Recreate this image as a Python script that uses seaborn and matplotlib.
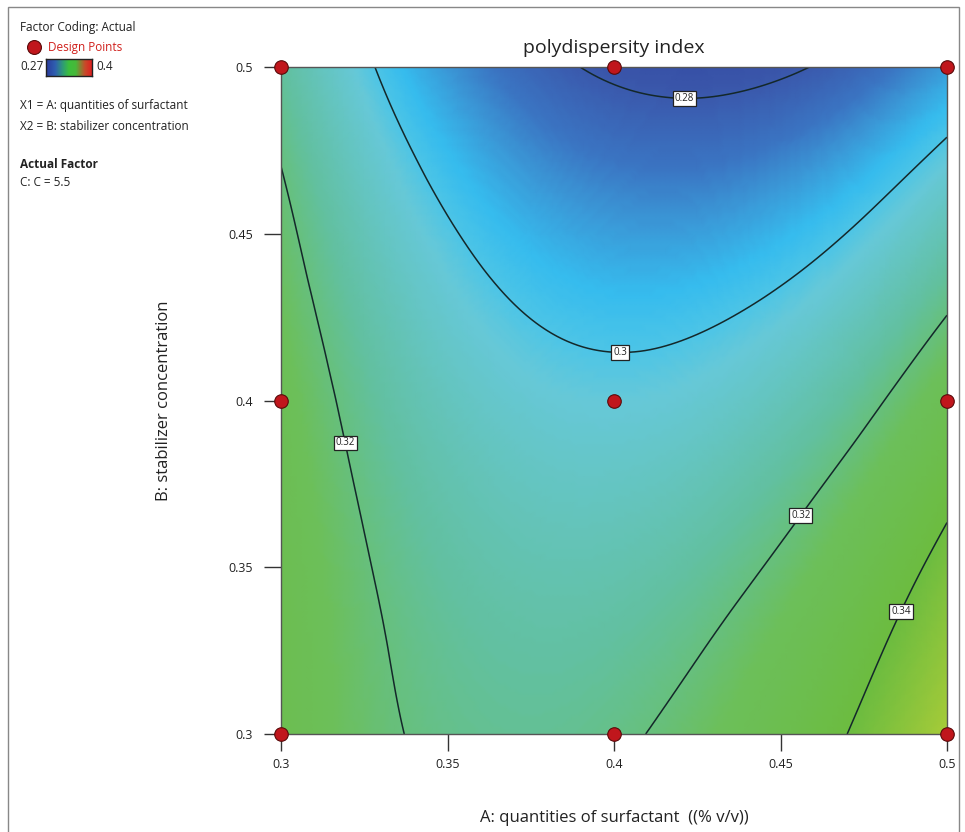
import numpy as np
import pandas as pd
import matplotlib
matplotlib.use("Agg")
import matplotlib.pyplot as plt
import matplotlib.tri as mtri
from matplotlib.colors import LinearSegmentedColormap
from matplotlib.patches import Rectangle
import seaborn as sns

# ---- data ----
A_levels = [0.300, 0.325, 0.350, 0.375, 0.400, 0.425, 0.450, 0.475, 0.500]  # A: surfactant
B_levels = [0.300, 0.325, 0.350, 0.375, 0.400, 0.425, 0.450, 0.475, 0.500]  # B: stabilizer
pdi_B0300 = [0.3302, 0.3226, 0.3181, 0.3167, 0.3185, 0.3234, 0.3314, 0.3425, 0.3568]
pdi_B0325 = [0.3303, 0.3219, 0.3166, 0.3145, 0.3155, 0.3196, 0.3268, 0.3371, 0.3506]
pdi_B0350 = [0.3299, 0.3207, 0.3146, 0.3117, 0.3119, 0.3152, 0.3216, 0.3312, 0.3439]
pdi_B0375 = [0.3289, 0.3189, 0.3121, 0.3083, 0.3077, 0.3102, 0.3159, 0.3246, 0.3365]
pdi_B0400 = [0.3274, 0.3166, 0.3089, 0.3044, 0.3030, 0.3047, 0.3096, 0.3175, 0.3286]
pdi_B0425 = [0.3252, 0.3137, 0.3052, 0.2999, 0.2977, 0.2987, 0.3027, 0.3099, 0.3202]
pdi_B0450 = [0.3226, 0.3102, 0.3010, 0.2949, 0.2919, 0.2920, 0.2953, 0.3017, 0.3112]
pdi_B0475 = [0.3193, 0.3062, 0.2961, 0.2892, 0.2855, 0.2848, 0.2873, 0.2929, 0.3016]
pdi_B0500 = [0.3155, 0.3016, 0.2907, 0.2831, 0.2785, 0.2771, 0.2787, 0.2836, 0.2915]
contour_levels = [0.28, 0.30, 0.32, 0.34]
contour_fmt = {0.28: "0.28", 0.30: "0.3", 0.32: "0.32", 0.34: "0.34"}
design_A = [0.3, 0.4, 0.5, 0.3, 0.4, 0.5, 0.3, 0.4, 0.5]
design_B = [0.5, 0.5, 0.5, 0.4, 0.4, 0.4, 0.3, 0.3, 0.3]
ticks = [0.3, 0.35, 0.4, 0.45, 0.5]
tick_labels = ["0.3", "0.35", "0.4", "0.45", "0.5"]
color_min, color_max = 0.27, 0.40

sns.set_style("white")
plt.rcParams["font.family"] = ["Open Sans", "DejaVu Sans"]

def pos(v):
    return (v - color_min) / (color_max - color_min)

cmap = LinearSegmentedColormap.from_list("de", [
    (pos(0.270), "#2b3f9c"), (pos(0.279), "#3a56aa"), (pos(0.286), "#3a74c2"),
    (pos(0.291), "#3a9ad8"), (pos(0.296), "#36bcee"), (pos(0.300), "#4ec5e6"),
    (pos(0.303), "#66c8d8"), (pos(0.315), "#62c0a0"), (pos(0.325), "#6cbf5a"),
    (pos(0.340), "#6cbc40"), (pos(0.357), "#a8cc38"), (pos(0.375), "#e0c030"),
    (pos(0.400), "#d82020")])
legend_cmap = LinearSegmentedColormap.from_list("leg", [
    (0.0, "#2a3a9c"), (0.2, "#2f5fb0"), (0.38, "#2fa070"), (0.5, "#3cbf3c"),
    (0.65, "#48b83a"), (0.85, "#c84a2a"), (1.0, "#e02020")])

fig = plt.figure(figsize=(9.65, 8.32), dpi=100)
ax = fig.add_axes([281/965, 98/832, 666/965, 667/832])

# grid -> triangulation, refined smoothly by matplotlib
AA, BB = np.meshgrid(A_levels, B_levels)
Z = np.array([pdi_B0300, pdi_B0325, pdi_B0350, pdi_B0375, pdi_B0400,
              pdi_B0425, pdi_B0450, pdi_B0475, pdi_B0500])
tri = mtri.Triangulation(AA.ravel(), BB.ravel())
interp = mtri.CubicTriInterpolator(tri, Z.ravel(), kind="min_E")
refiner = mtri.UniformTriRefiner(tri)
tri_f, z_f = refiner.refine_field(Z.ravel(), triinterpolator=interp, subdiv=4)

ax.tripcolor(tri_f, z_f, shading="gouraud", cmap=cmap, vmin=color_min, vmax=color_max)
cs = ax.tricontour(tri_f, z_f, levels=contour_levels, colors="#14282a", linewidths=1.1)
label_pos = [(0.4212, 0.4922), (0.4018, 0.4145), (0.3180, 0.3870),
             (0.4555, 0.3660), (0.4853, 0.3372)]
labels = ax.clabel(cs, fmt=contour_fmt, fontsize=7, inline=False, manual=label_pos)
for t in labels:
    t.set_rotation(0)
    t.set_color("#222222")
    t.set_bbox(dict(facecolor="white", edgecolor="#222222", linewidth=0.9, pad=1.4))

pts = pd.DataFrame({"A": design_A, "B": design_B})
sns.scatterplot(data=pts, x="A", y="B", ax=ax, s=95, color="#c0161c",
                edgecolor="#5a0a0a", linewidth=0.8, zorder=10, clip_on=False, legend=False)

ax.set_xlim(0.3, 0.5)
ax.set_ylim(0.3, 0.5)
ax.set_xticks(ticks)
ax.set_xticklabels(tick_labels)
ax.set_yticks(ticks)
ax.set_yticklabels(tick_labels)
ax.tick_params(axis="both", direction="out", length=12, width=1, color="#333333",
               labelsize=9, labelcolor="#222222")
ax.tick_params(axis="x", pad=5)
ax.tick_params(axis="y", pad=8)
ax.tick_params(bottom=True, left=True)
for s in ax.spines.values():
    s.set_color("#555555")
    s.set_linewidth(1)
ax.set_xlabel("A: quantities of surfactant  ((% v/v))", fontsize=12, color="#222222")
ax.set_ylabel("B: stabilizer concentration", fontsize=12, color="#222222")
ax.xaxis.set_label_coords(0.5, -0.114)
ax.yaxis.set_label_coords(-0.164, 0.5)
ax.text(0.5, 1.028, "polydispersity index", transform=ax.transAxes,
        ha="center", va="center", fontsize=14, color="#222222")

# left legend block
def ft(x, y, s, **kw):
    fig.text(x/965, 1 - y/832, s, va="center", ha="left", **kw)

ft(20, 28, "Factor Coding: Actual", fontsize=8.5, color="#222222")
fig.add_artist(plt.Line2D([34/965], [1 - 47/832], marker="o", markersize=10,
                          markerfacecolor="#c0161c", markeredgecolor="#5a0a0a",
                          markeredgewidth=0.8, linestyle="none"))
ft(48, 47, "Design Points", fontsize=8.5, color="#d0201c")
ft(20, 67, "%g" % color_min, fontsize=8.5, color="#222222")
ft(96, 67, "%g" % color_max, fontsize=8.5, color="#222222")
cax = fig.add_axes([46/965, 1 - 76/832, 46/965, 17/832])
cax.imshow(np.linspace(0, 1, 256)[None, :], aspect="auto", cmap=legend_cmap)
cax.set_xticks([])
cax.set_yticks([])
for s in cax.spines.values():
    s.set_color("#222222")
    s.set_linewidth(1)
ft(20, 105, "X1 = A: quantities of surfactant", fontsize=8.5, color="#222222")
ft(20, 126, "X2 = B: stabilizer concentration", fontsize=8.5, color="#222222")
ft(20, 165, "Actual Factor", fontsize=8.5, fontweight="bold", color="#222222")
ft(20, 183, "C: C = 5.5", fontsize=8.5, color="#222222")

fig.add_artist(Rectangle((8/965, -0.02), 951/965, 1.02 - 7/832, transform=fig.transFigure,
                         fill=False, edgecolor="#888888", linewidth=1))

fig.savefig("out.png", dpi=100)
